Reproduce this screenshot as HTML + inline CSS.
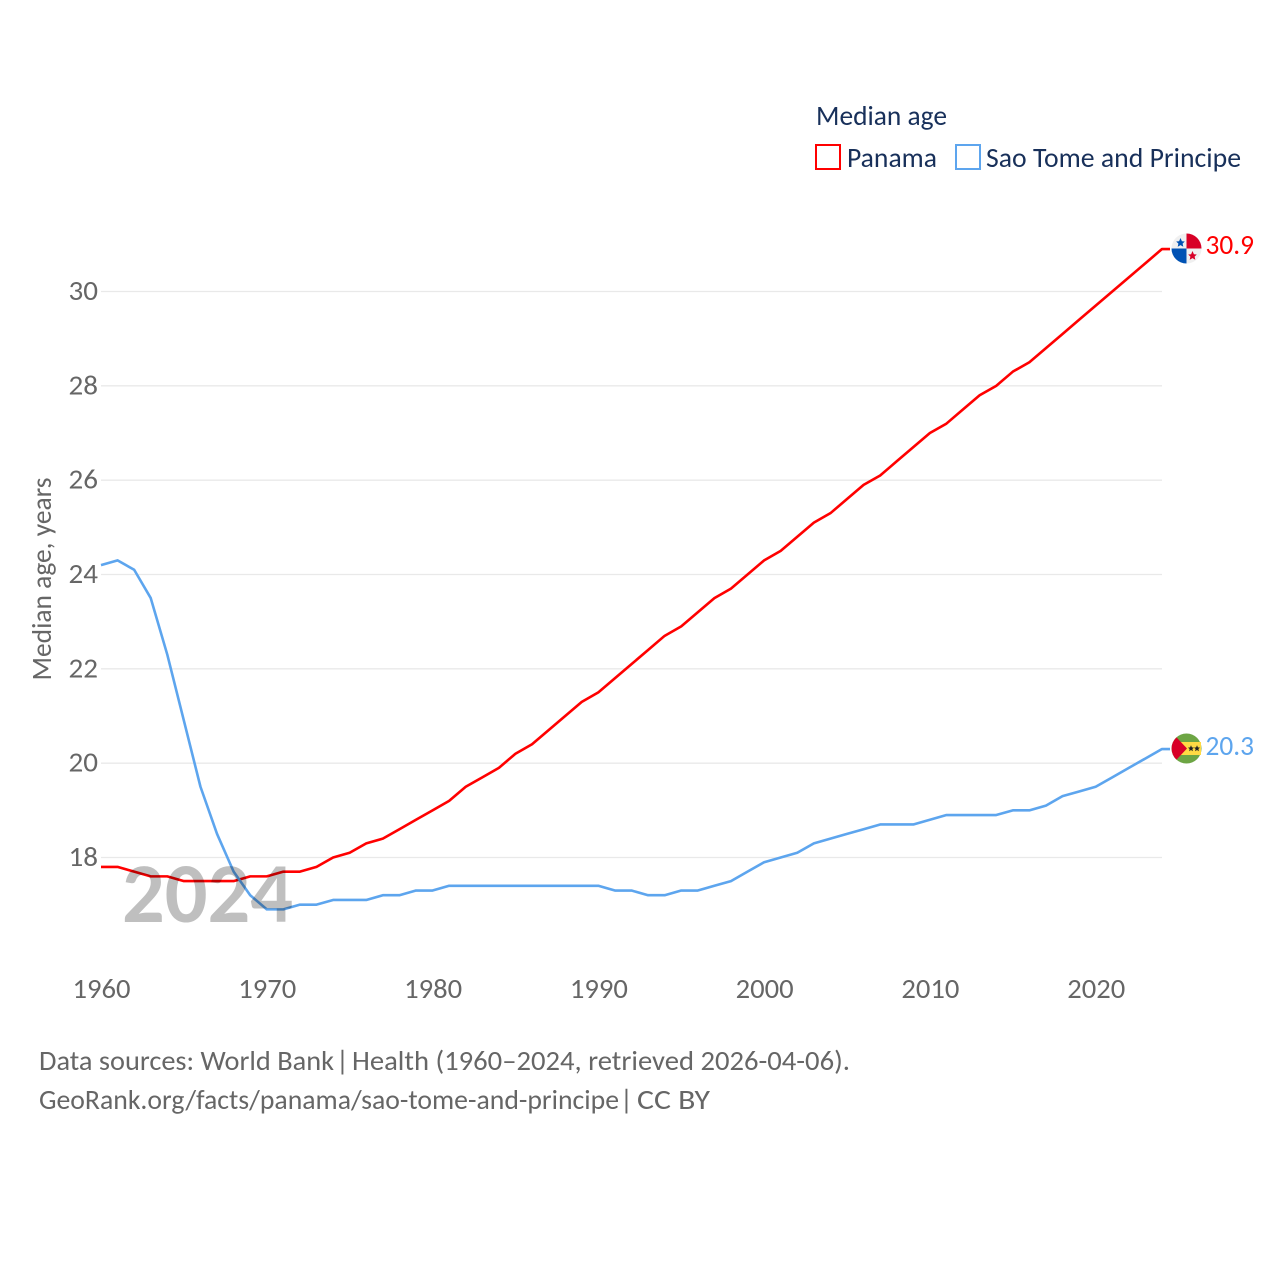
<!DOCTYPE html>
<html lang="en">
<head>
<meta charset="utf-8">
<title>Median age: Panama and Sao Tome and Principe</title>
<style>
html,body{margin:0;padding:0;background:#fff;width:1280px;height:1280px;overflow:hidden}
svg{display:block}
text{font-family:"Carlito","Lato","Liberation Sans",sans-serif}
</style>
</head>
<body>
<svg id="chart" xmlns="http://www.w3.org/2000/svg" width="1280" height="1280" viewBox="0 0 1280 1280">
  <rect x="0" y="0" width="1280" height="1280" fill="#fff"/>
  <g id="grid"></g>
  <g id="yticks"></g>
  <g id="xticks"></g>
  <text x="51" y="579" text-anchor="middle" transform="rotate(-90 51 579)" font-size="28" fill="#666" textLength="203" lengthAdjust="spacingAndGlyphs">Median age, years</text>
  <g id="series"></g>
  <text id="year-label" x="122" y="922" font-size="85" font-weight="700" fill="#000" fill-opacity="0.25" textLength="171" lengthAdjust="spacingAndGlyphs">2024</text>

  <g id="flag-panama">
    <circle cx="1186.5" cy="248.5" r="15" fill="#f0f0f0"/>
    <path d="M1186.5 248.5V233.5A15 15 0 0 1 1201.5 248.5Z" fill="#d80027"/>
    <path d="M1186.5 248.5V263.5A15 15 0 0 1 1171.5 248.5Z" fill="#0052b4"/>
    <polygon points="1180.5,238 1181.9,241.3 1184.8,241.5 1182.6,243.6 1183.3,246.8 1180.5,245.1 1177.7,246.8 1178.4,243.6 1176.2,241.5 1179.1,241.3" fill="#0052b4"/>
    <polygon points="1192.5,251 1193.9,254.3 1196.8,254.5 1194.6,256.6 1195.3,259.8 1192.5,258.1 1189.7,259.8 1190.4,256.6 1188.2,254.5 1191.1,254.3" fill="#d80027"/>
  </g>
  <g id="flag-stp">
    <circle cx="1186.5" cy="748.5" r="15" fill="#6da544"/>
    <rect x="1180" y="742" width="21" height="13" fill="#ffda44"/>
    <path d="M1176.5 737.4L1187 748.5L1176.5 759.6A15 15 0 0 1 1176.5 737.4Z" fill="#d80027"/>
    <polygon points="1191,745.2 1191.9,747.4 1194,747.6 1192.4,749 1192.9,751.2 1191,750 1189.1,751.2 1189.6,749 1188,747.6 1190.1,747.4" fill="#222"/>
    <polygon points="1197,745.2 1197.9,747.4 1200,747.6 1198.4,749 1198.9,751.2 1197,750 1195.1,751.2 1195.6,749 1194,747.6 1196.1,747.4" fill="#222"/>
  </g>
  <text x="1205.5" y="254" font-size="28" fill="#ff0000" textLength="48.5" lengthAdjust="spacingAndGlyphs">30.9</text>
  <text x="1205.5" y="755" font-size="28" fill="#5da5ee" textLength="48.5" lengthAdjust="spacingAndGlyphs">20.3</text>

  <g>
    <text x="816" y="125" font-size="28" fill="#18305a" textLength="131" lengthAdjust="spacingAndGlyphs">Median age</text>
    <g>
      <rect x="816" y="145" width="24" height="24" fill="none" stroke="#ff0000" stroke-width="2"/>
      <text x="847" y="167" font-size="28" fill="#18305a" textLength="90" lengthAdjust="spacingAndGlyphs">Panama</text>
    </g>
    <g>
      <rect x="956" y="145" width="24" height="24" fill="none" stroke="#5da5ee" stroke-width="2"/>
      <text x="986" y="167" font-size="28" fill="#18305a" textLength="255" lengthAdjust="spacingAndGlyphs">Sao Tome and Principe</text>
    </g>
  </g>

  <g>
    <text x="39" y="1070" font-size="28" fill="#666" textLength="295" lengthAdjust="spacingAndGlyphs">Data sources: World Bank</text>
    <text x="336" y="1070" font-size="28" fill="#666">|</text>
    <text x="352" y="1070" font-size="28" fill="#666" textLength="498" lengthAdjust="spacingAndGlyphs">Health (1960–2024, retrieved 2026-04-06).</text>
  </g>
  <g>
    <text x="39" y="1109" font-size="28" fill="#666" textLength="580" lengthAdjust="spacingAndGlyphs">GeoRank.org/facts/panama/sao-tome-and-principe</text>
    <text x="620" y="1109" font-size="28" fill="#666">|</text>
    <text x="637" y="1109" font-size="28" fill="#666" textLength="73" lengthAdjust="spacingAndGlyphs">CC BY</text>
  </g>
</svg>
<script>
const startYear = 1960;
const yTickValues = [18, 20, 22, 24, 26, 28, 30];
const xTickYears = [1960, 1970, 1980, 1990, 2000, 2010, 2020];
const panamaValues = [17.8,17.8,17.7,17.6,17.6,17.5,17.5,17.5,17.5,17.6,17.6,17.7,17.7,17.8,18.0,18.1,18.3,18.4,18.6,18.8,19.0,19.2,19.5,19.7,19.9,20.2,20.4,20.7,21.0,21.3,21.5,21.8,22.1,22.4,22.7,22.9,23.2,23.5,23.7,24.0,24.3,24.5,24.8,25.1,25.3,25.6,25.9,26.1,26.4,26.7,27.0,27.2,27.5,27.8,28.0,28.3,28.5,28.8,29.1,29.4,29.7,30.0,30.3,30.6,30.9];
const saoTomeValues = [24.2,24.3,24.1,23.5,22.3,20.9,19.5,18.5,17.7,17.2,16.9,16.9,17.0,17.0,17.1,17.1,17.1,17.2,17.2,17.3,17.3,17.4,17.4,17.4,17.4,17.4,17.4,17.4,17.4,17.4,17.4,17.3,17.3,17.2,17.2,17.3,17.3,17.4,17.5,17.7,17.9,18.0,18.1,18.3,18.4,18.5,18.6,18.7,18.7,18.7,18.8,18.9,18.9,18.9,18.9,19.0,19.0,19.1,19.3,19.4,19.5,19.7,19.9,20.1,20.3];

const NS = 'http://www.w3.org/2000/svg';
function xScale(year) { return 101 + (year - 1960) * (1162 - 101) / 64; }
function yScale(v) { return 857.5 - (v - 18) * (857.5 - 291.5) / 12; }
function make(tag, attrs, parent) {
  const el = document.createElementNS(NS, tag);
  for (const k in attrs) el.setAttribute(k, attrs[k]);
  parent.appendChild(el);
  return el;
}
const gridG = document.getElementById('grid');
const yG = document.getElementById('yticks');
const xG = document.getElementById('xticks');
const seriesG = document.getElementById('series');

yTickValues.forEach(function (v) {
  const line = make('line', {x1: 101, x2: 1162, y1: yScale(v), y2: yScale(v), stroke: '#e9e9e9', 'stroke-width': 1.3}, gridG);
  
  
  const t = make('text', {x: 98, y: yScale(v) + 8.5, 'text-anchor': 'end', 'font-size': 28, fill: '#666', textLength: 29.5, lengthAdjust: 'spacingAndGlyphs'}, yG);
  t.textContent = String(v);
  
  
});
xTickYears.forEach(function (yr) {
  const t = make('text', {x: xScale(yr) + 0.5, y: 998, 'text-anchor': 'middle', 'font-size': 28, fill: '#666', textLength: 58, lengthAdjust: 'spacingAndGlyphs'}, xG);
  t.textContent = String(yr);
  
  
});
function drawSeries(values, color, name) {
  const pts = values.map(function (v, i) { return xScale(startYear + i).toFixed(2) + ',' + yScale(v).toFixed(2); });
  const last = yScale(values[values.length - 1]).toFixed(2);
  pts.push('1170,' + last);
  const line = make('polyline', {points: pts.join(' '), fill: 'none', stroke: color, 'stroke-width': 2.6, 'stroke-linejoin': 'round'}, seriesG);
  
  
}
drawSeries(panamaValues, '#ff0000', 'line-panama');
drawSeries(saoTomeValues, '#5da5ee', 'line-sao-tome');
</script>
</body>
</html>
